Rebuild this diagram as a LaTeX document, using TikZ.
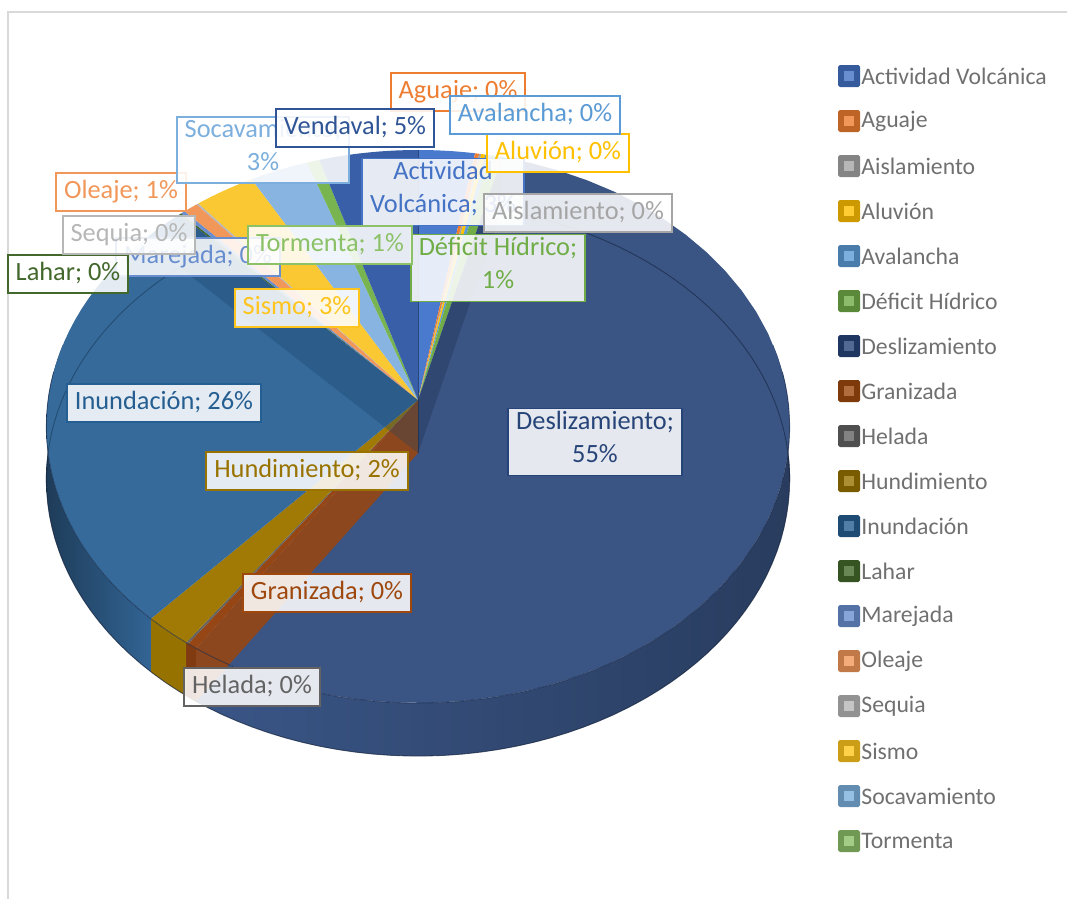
\documentclass[tikz,border=0pt]{standalone}
\usepackage{fontspec}
\setmainfont{Carlito}
\usepackage{tikz}
% slice colours (line / label colour)
\definecolor{avLn}{RGB}{68,114,196}
\definecolor{agLn}{RGB}{237,125,49}
\definecolor{aisLn}{RGB}{165,165,165}
\definecolor{aluLn}{RGB}{255,192,0}
\definecolor{avaLn}{RGB}{91,155,213}
\definecolor{dhLn}{RGB}{112,173,71}
\definecolor{desLn}{RGB}{38,68,120}
\definecolor{graLn}{RGB}{158,72,14}
\definecolor{helLn}{RGB}{99,99,99}
\definecolor{hunLn}{RGB}{153,115,0}
\definecolor{inuLn}{RGB}{37,94,145}
\definecolor{lahLn}{RGB}{67,104,43}
\definecolor{marLn}{RGB}{105,142,208}
\definecolor{oleLn}{RGB}{241,151,90}
\definecolor{seqLn}{RGB}{183,183,183}
\definecolor{sisLn}{RGB}{255,197,30}
\definecolor{socLn}{RGB}{124,175,221}
\definecolor{torLn}{RGB}{140,193,104}
\definecolor{venLn}{RGB}{47,85,151}
% top faces and sides
\definecolor{avTop}{RGB}{74,122,206}
\definecolor{desTop}{RGB}{58,84,132}
\definecolor{graTop}{RGB}{150,70,20}
\definecolor{hunTop}{RGB}{160,122,5}
\definecolor{inuTop}{RGB}{53,106,155}
\definecolor{sisTop}{RGB}{250,200,50}
\definecolor{socTop}{RGB}{135,180,225}
\definecolor{torTop}{RGB}{120,180,80}
\definecolor{venTop}{RGB}{56,95,168}
\definecolor{desSide}{RGB}{58,86,135}
\definecolor{inuSide}{RGB}{50,100,148}
\definecolor{hunSide}{RGB}{150,114,0}
\definecolor{legGray}{RGB}{112,112,112}
\definecolor{frameGray}{RGB}{217,217,217}
\newcommand{\lblfont}{\fontsize{15}{19}\selectfont}
\newcommand{\legfont}{\fontsize{13.5}{16}\selectfont}
\def\pieDepth{53}

\begin{document}
\begin{tikzpicture}[x=0.02cm, y=-0.02cm,
	declare function={pieX(\t)=418+370*sin(\t)/(1+0.096*cos(\t));
		pieY(\t)=400-274*cos(\t)/(1+0.096*cos(\t));},
	lbl/.style={draw=#1, text=#1, fill=white, fill opacity=0.87, text opacity=1,
		draw opacity=1, line width=1.1pt, inner xsep=4.5pt, inner ysep=1.5pt,
		align=center, font=\lblfont, execute at begin node=\strut,
		execute at end node=\strut},
	legtxt/.style={anchor=west, inner sep=0pt, text=legGray, font=\legfont}]
	\useasboundingbox (0,0) rectangle (1067,899);
	% chart area frame
	\draw[frameGray, line width=0.8pt] (8,899) -- (8,12) -- (1067,12);

	% side of the pie (front half)
	\shade[left color=desSide, right color=desSide!70!black]
		plot[domain=78:213.48, samples=60, variable=\t] ({pieX(\t)},{pieY(\t)})
		-- plot[domain=213.48:78, samples=60, variable=\t] ({pieX(\t)},{pieY(\t)+\pieDepth}) -- cycle;
	\fill[graTop!85!black]
		plot[domain=213.48:215.28, samples=5, variable=\t] ({pieX(\t)},{pieY(\t)})
		-- plot[domain=215.28:213.48, samples=5, variable=\t] ({pieX(\t)},{pieY(\t)+\pieDepth}) -- cycle;
	\fill[hunSide]
		plot[domain=215.28:222.12, samples=10, variable=\t] ({pieX(\t)},{pieY(\t)})
		-- plot[domain=222.12:215.28, samples=10, variable=\t] ({pieX(\t)},{pieY(\t)+\pieDepth}) -- cycle;
	\shade[left color=inuSide!60!black, right color=inuSide]
		plot[domain=222.12:282, samples=40, variable=\t] ({pieX(\t)},{pieY(\t)})
		-- plot[domain=282:222.12, samples=40, variable=\t] ({pieX(\t)},{pieY(\t)+\pieDepth}) -- cycle;
	\draw[desLn!50!black, line width=0.5pt, opacity=0.7]
		plot[domain=80:280, samples=80, variable=\t] ({pieX(\t)},{pieY(\t)+\pieDepth});

	% top faces
	\foreach \a/\b/\c in {0/9.72/avTop, 9.72/10.44/agLn, 10.44/10.8/aisLn,
		10.8/11.52/aluLn, 11.52/12.24/avaLn, 12.24/14.4/dhLn, 14.4/213.48/desTop,
		213.48/214.92/graTop, 214.92/215.28/helLn, 215.28/222.12/hunTop,
		222.12/316.44/inuTop, 316.44/316.8/lahLn, 316.8/317.52/marLn,
		317.52/320.04/oleLn, 320.04/320.4/seqLn, 320.4/330.84/sisTop,
		330.84/340.92/socTop, 340.92/343.08/torTop, 343.08/360/venTop}
		\fill[fill=\c] (418,400) -- plot[domain=\a:\b, samples=40, variable=\t]
			({pieX(\t)},{pieY(\t)}) -- cycle;

	% cut walls seen through the slices
	\fill[desLn!60!black, opacity=0.3] (418,400) -- (418,400+\pieDepth)
		-- ({pieX(14.4)},{pieY(14.4)+\pieDepth}) -- ({pieX(14.4)},{pieY(14.4)}) -- cycle;
	\fill[graTop, opacity=0.9] (418,400) -- (418,400+\pieDepth)
		-- ({pieX(213.48)},{pieY(213.48)+\pieDepth}) -- ({pieX(213.48)},{pieY(213.48)}) -- cycle;
	\fill[inuLn!70!black, opacity=0.3] (418,400) -- (418,400+\pieDepth)
		-- ({pieX(316.44)},{pieY(316.44)+\pieDepth}) -- ({pieX(316.44)},{pieY(316.44)}) -- cycle;
	\draw[desLn!60!black, line width=0.4pt, opacity=0.6] (418,400) -- (418,400+\pieDepth);
	\draw[desLn!60!black, line width=0.4pt, opacity=0.6] (418,400) -- ({pieX(0)},{pieY(0)});
	% back rim seen through
	\draw[desLn!50!black, line width=0.5pt, opacity=0.6]
		plot[domain=14.4:96, samples=40, variable=\t] ({pieX(\t)},{pieY(\t)+\pieDepth});
	\draw[inuLn!50!black, line width=0.5pt, opacity=0.5]
		plot[domain=262:316.44, samples=30, variable=\t] ({pieX(\t)},{pieY(\t)+\pieDepth});
	% front edge of the top face
	\draw[desLn!60!black, line width=0.5pt, opacity=0.6]
		plot[domain=84:276, samples=80, variable=\t] ({pieX(\t)},{pieY(\t)});

	% data labels
	\node[lbl=avLn] (lblAV) at (443,192) {Actividad\\Volcánica; 3\%};
	\node[lbl=agLn] (lblAg) at (458,92) {Aguaje; 0\%};
	\node[lbl=aisLn] (lblAis) at (578,213) {Aislamiento; 0\%};
	\node[lbl=aluLn] (lblAlu) at (558,153) {Aluvión; 0\%};
	\node[lbl=avaLn] (lblAva) at (535,115) {Avalancha; 0\%};
	\node[lbl=dhLn] (lblDH) at (498,268) {Déficit Hídrico;\\1\%};
	\node[lbl=desLn] (lblDes) at (595,442) {Deslizamiento;\\55\%};
	\node[lbl=graLn] (lblGra) at (327,593) {Granizada; 0\%};
	\node[lbl=helLn] (lblHel) at (252,687) {Helada; 0\%};
	\node[lbl=hunLn] (lblHun) at (307,471) {Hundimiento; 2\%};
	\node[lbl=inuLn] (lblInu) at (164,403) {Inundación; 26\%};
	\node[lbl=marLn] (lblMar) at (198,257) {Marejada; 0\%};
	\node[lbl=lahLn] (lblLah) at (68,274) {Lahar; 0\%};
	\node[lbl=oleLn] (lblOle) at (121,192) {Oleaje; 1\%};
	\node[lbl=seqLn] (lblSeq) at (129,235) {Sequia; 0\%};
	\node[lbl=sisLn] (lblSis) at (297,308) {Sismo; 3\%};
	\node[lbl=socLn] (lblSoc) at (263,150) {Socavamiento;\\3\%};
	\node[lbl=torLn] (lblTor) at (330,245) {Tormenta; 1\%};
	\node[lbl=venLn] (lblVen) at (355,128) {Vendaval; 5\%};

	% legend
	\foreach \key/\txt [count=\i from 0, evaluate=\i as \y using 76+45*\i] in
		{av/Actividad Volcánica, ag/Aguaje, ais/Aislamiento, alu/Aluvión,
		ava/Avalancha, dh/Déficit Hídrico, des/Deslizamiento, gra/Granizada,
		hel/Helada, hun/Hundimiento, inu/Inundación, lah/Lahar, mar/Marejada,
		ole/Oleaje, seq/Sequia, sis/Sismo, soc/Socavamiento, tor/Tormenta}{
		\edef\cl{\key Ln}
		\fill[fill=\cl!80!black, rounded corners=1pt] (838,\y-11) rectangle (860,\y+11);
		\fill[fill=\cl!80!white] (844,\y-5) rectangle (854,\y+5);
		\node[legtxt] (leg\i) at (861,\y) {\txt};
	}
\end{tikzpicture}
\end{document}
